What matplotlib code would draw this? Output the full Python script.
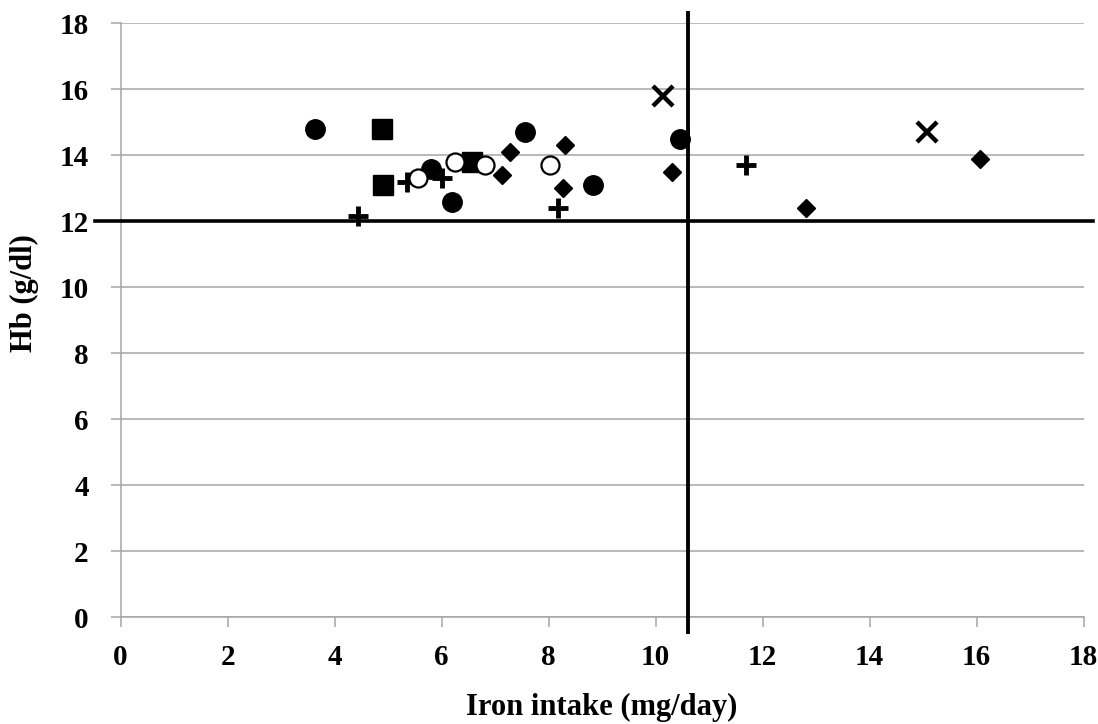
import matplotlib
matplotlib.use("Agg")
import matplotlib.pyplot as plt

# Data
diamond_x = [7.12, 7.28, 8.30, 8.27, 10.30, 12.81, 16.06]
diamond_y = [13.4, 14.1, 14.3, 13.0, 13.5, 12.4, 13.9]

square_x = [4.88, 4.91, 6.56]
square_y = [14.8, 13.1, 13.8]

cross_x = [10.14, 15.08]
cross_y = [15.8, 14.7]

plus_x = [4.44, 5.35, 6.00, 8.18, 11.68]
plus_y = [12.15, 13.2, 13.3, 12.4, 13.7]

dot_x = [3.63, 5.81, 6.19, 7.56, 8.83, 10.45]
dot_y = [14.8, 13.6, 12.6, 14.7, 13.1, 14.5]

ring_x = [5.56, 6.25, 6.81, 8.02]
ring_y = [13.3, 13.8, 13.7, 13.7]

x_ticks = [0, 2, 4, 6, 8, 10, 12, 14, 16, 18]
y_ticks = [0, 2, 4, 6, 8, 10, 12, 14, 16, 18]
hb_cut = 12
iron_cut = 10.6

plt.rcParams['font.family'] = ['Liberation Serif', 'DejaVu Serif']
plt.rcParams['font.weight'] = 'bold'

fig = plt.figure(figsize=(10.98, 7.24), dpi=100)
ax = fig.add_axes([0.1099, 0.1474, 0.8770, 0.8204])

ax.set_xlim(0, 18)
ax.set_ylim(0, 18)
ax.set_xticks(x_ticks)
ax.set_yticks(y_ticks)
ax.grid(axis='y', color='#a6a6a6', lw=1.1)
ax.set_axisbelow(True)
for s in ['top', 'right']:
    ax.spines[s].set_visible(False)
for s in ['left', 'bottom']:
    ax.spines[s].set_color('#a6a6a6')
    ax.spines[s].set_linewidth(1.1)
ax.tick_params(axis='both', direction='out', length=7, width=1.1, color='#a6a6a6',
               labelsize=21)
ax.tick_params(axis='x', pad=12)
ax.tick_params(axis='y', pad=16)
for lab in ax.get_xticklabels() + ax.get_yticklabels():
    lab.set_fontweight('bold')

# Reference lines
ax.plot([-0.48, 18.17], [hb_cut, hb_cut], color='black', lw=2.6, clip_on=False, zorder=3)
ax.plot([iron_cut, iron_cut], [-0.44, 18.31], color='black', lw=2.8, clip_on=False, zorder=3)

ax.plot(diamond_x, diamond_y, 'D', color='black', ms=9, ls='none', zorder=4)
ax.plot(square_x, square_y, 's', color='black', ms=14, ls='none', zorder=4)
ax.plot(cross_x, cross_y, 'x', color='black', ms=14, mew=3.2, ls='none', zorder=4)
ax.plot(plus_x, plus_y, '+', color='black', ms=14, mew=3.5, ls='none', zorder=4)
ax.plot(dot_x, dot_y, 'o', color='black', ms=14, ls='none', zorder=5)
ax.plot(ring_x, ring_y, 'o', mfc='white', mec='black', ms=13, mew=1.6, ls='none', zorder=5)

ax.set_xlabel('Iron intake (mg/day)', fontsize=22, fontweight='bold', labelpad=16)
ax.set_ylabel('Hb (g/dl)', fontsize=22, fontweight='bold', va='center')
ax.yaxis.set_label_coords(-0.0994, 0.546)

fig.savefig('out.png', dpi=100)
